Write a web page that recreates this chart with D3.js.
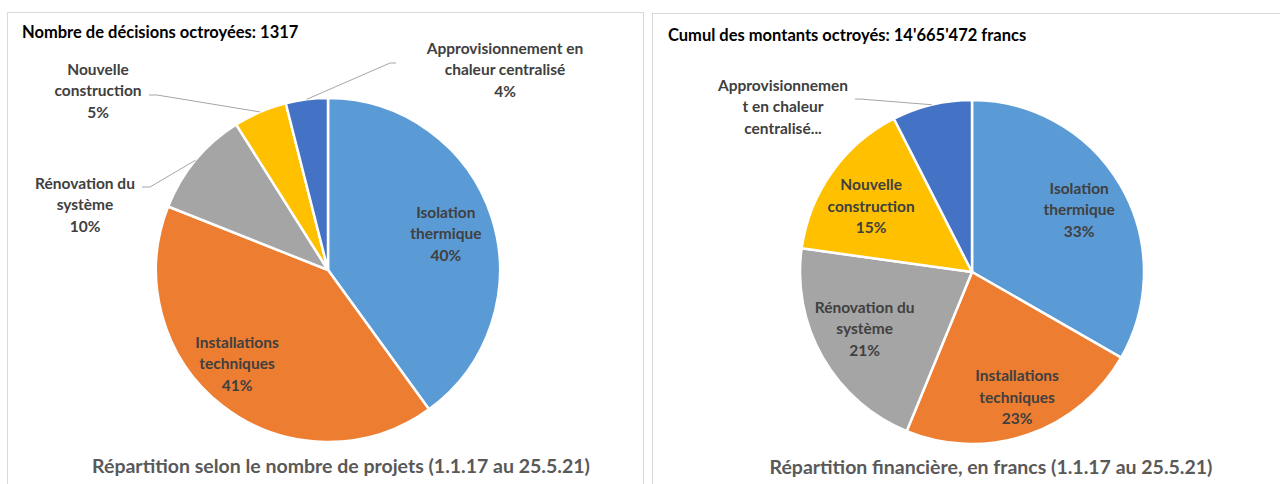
<!DOCTYPE html>
<html>
<head>
    <meta charset="utf-8" />
    <title>Répartition des décisions octroyées</title>
    <style>
        body { margin: 0; background: #fff; }
        svg text { font-family: Lato, "Open Sans", sans-serif; font-weight: 700; }
    </style>
</head>
<body>
    <div id="chart"></div>
    <script src="https://cdn.jsdelivr.net/npm/d3@7/dist/d3.min.js"></script>
    <script>
        // ---------------- data ----------------
        var categories = ["Isolation thermique", "Installations techniques", "Rénovation du système", "Nouvelle construction", "Approvisionnement en chaleur centralisé"];
        var colors = ["#5B9BD5", "#ED7D31", "#A5A5A5", "#FFC000", "#4472C4"];
        // number of decisions (total 1317)
        var countValues = [527, 540, 132, 66, 52];
        // share of amounts, in %
        var amountValues = [33.3, 22.9, 21.0, 15.3, 7.5];

        var leftTitle = "Nombre de décisions octroyées: 1317";
        var rightTitle = "Cumul des montants octroyés: 14'665'472 francs";
        var leftSubtitle = "Répartition selon le nombre de projets (1.1.17 au 25.5.21)";
        var rightSubtitle = "Répartition financière, en francs (1.1.17 au 25.5.21)";

        // label text lines per chart (Excel wraps them this way)
        var leftLabels = [
            ["Isolation", "thermique"],
            ["Installations", "techniques"],
            ["Rénovation du", "système"],
            ["Nouvelle", "construction"],
            ["Approvisionnement en", "chaleur centralisé"]
        ];
        var rightLabels = [
            ["Isolation", "thermique"],
            ["Installations", "techniques"],
            ["Rénovation du", "système"],
            ["Nouvelle", "construction"],
            ["Approvisionnemen", "t en chaleur", "centralisé..."]
        ];

        // ---------------- layout ----------------
        var W = 1280, H = 484;
        var radius = 172;
        var lineH = 21.5;

        var svg = d3.select("#chart").append("svg")
            .attr("width", W)
            .attr("height", H);

        // panel frames
        svg.append("rect").attr("x", 7.5).attr("y", 12.5).attr("width", 636).attr("height", 490)
            .attr("fill", "none").attr("stroke", "#d9d9d9");
        svg.append("rect").attr("x", 652.5).attr("y", 13.5).attr("width", 640).attr("height", 490)
            .attr("fill", "none").attr("stroke", "#d9d9d9");

        // label placement: inside labels = centroid + nudge, outside labels = offset from centre + leader elbow
        var leftOpts = {
            cx: 328, cy: 270,
            title: leftTitle, titleX: 22, titleY: 32,
            subtitle: leftSubtitle, subX: 341, subY: 466,
            values: countValues, lines: leftLabels,
            place: [
                { inside: true, nudge: [0, 2] },
                { inside: true, nudge: [-15, -4] },
                { inside: false, label: [-243, -65], elbow: [-178, -83], end: [-186, -83] },
                { inside: false, label: [-230, -179], elbow: [-171, -175], end: [-179, -175] },
                { inside: false, label: [177, -200], elbow: [62, -207], end: [68, -207] }
            ]
        };
        var rightOpts = {
            cx: 972, cy: 272,
            title: rightTitle, titleX: 668, titleY: 35,
            subtitle: rightSubtitle, subX: 991, subY: 467,
            values: amountValues, lines: rightLabels,
            place: [
                { inside: true, nudge: [0, 0] },
                { inside: true, nudge: [5, 8] },
                { inside: true, nudge: [0, -5] },
                { inside: true, nudge: [0, 6] },
                { inside: false, label: [-189, -165], elbow: [-112, -173], end: [-117, -173], noPct: true }
            ]
        };

        function drawPie(o) {
            var g = svg.append("g").attr("transform", "translate(" + o.cx + "," + o.cy + ")");
            var total = d3.sum(o.values);
            var data = o.values.map(function (v, i) { return { name: categories[i], value: v, i: i }; });
            var pie = d3.pie().sort(null).value(function (d) { return d.value; });
            var arc = d3.arc().innerRadius(0).outerRadius(radius);
            var labelArc = d3.arc().innerRadius(radius * 0.72).outerRadius(radius * 0.72);
            var edgeArc = d3.arc().innerRadius(radius).outerRadius(radius);
            var arcs = pie(data);

            g.selectAll("path.slice")
                .data(arcs)
                .join("path")
                .attr("class", "slice")
                .attr("d", arc)
                .attr("fill", function (d) { return colors[d.data.i]; })
                .attr("stroke", "#fff")
                .attr("stroke-width", 2.5);

            arcs.forEach(function (d) {
                var p = o.place[d.data.i];
                var lines = o.lines[d.data.i].slice();
                if (!p.noPct) lines.push(Math.round(d.data.value / total * 100) + "%");
                var pos;
                if (p.inside) {
                    var c = labelArc.centroid(d);
                    pos = [c[0] + p.nudge[0], c[1] + p.nudge[1]];
                } else {
                    pos = p.label;
                    var s = edgeArc.centroid(d);
                    g.append("polyline")
                        .attr("points", [s, p.elbow, p.end].map(function (q) { return q.join(","); }).join(" "))
                        .attr("fill", "none")
                        .attr("stroke", "#a6a6a6")
                        .attr("stroke-width", 1);
                }
                var t = g.append("text")
                    .attr("text-anchor", "middle")
                    .attr("fill", "#404040")
                    .style("font-size", "15.5px");
                var y0 = pos[1] - (lines.length - 1) * lineH / 2;
                lines.forEach(function (l, k) {
                    t.append("tspan")
                        .attr("x", pos[0])
                        .attr("y", y0 + k * lineH)
                        .attr("dy", "0.35em")
                        .text(l);
                });
            });

            svg.append("text")
                .attr("x", o.titleX).attr("y", o.titleY).attr("dy", "0.35em")
                .attr("fill", "#000")
                .style("font-size", "16.5px")
                .text(o.title);

            svg.append("text")
                .attr("x", o.subX).attr("y", o.subY).attr("dy", "0.35em")
                .attr("text-anchor", "middle")
                .attr("fill", "#595959")
                .style("font-size", "19.5px")
                .text(o.subtitle);
        }

        drawPie(leftOpts);
        drawPie(rightOpts);
    </script>
</body>
</html>
